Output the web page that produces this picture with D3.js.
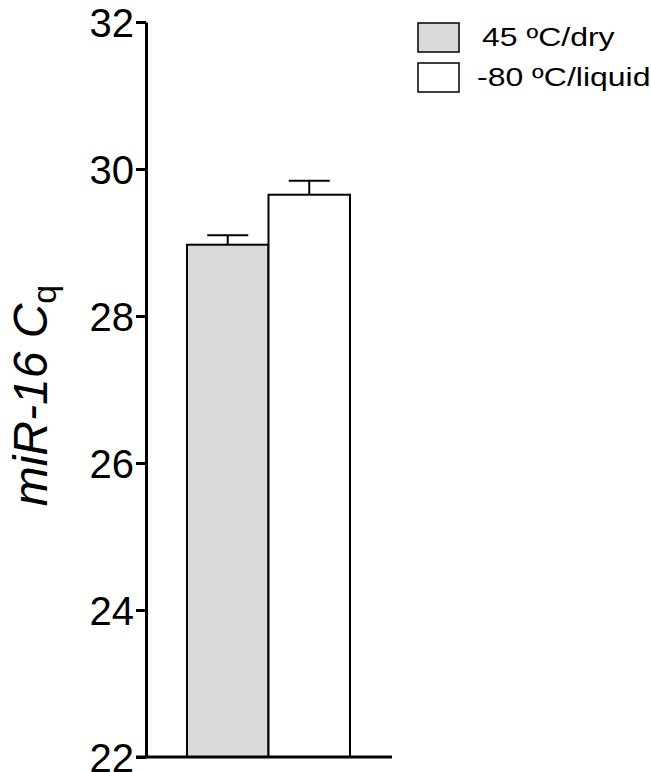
<!DOCTYPE html>
<html>
<head>
<meta charset="utf-8">
<script src="https://cdn.jsdelivr.net/npm/d3@7"></script>
<style>
  body { margin: 0; background: #fff; }
  text { font-family: "Liberation Sans", Arial, sans-serif; fill: #000; }
</style>
</head>
<body>
<script>
// data
var conditions = ["45 \u00baC/dry", "-80 \u00baC/liquid"];
var meanCq = [28.97, 29.65];
var semCq = [0.13, 0.19];
var barFills = ["#d9dad9", "#ffffff"];
var yTicks = [22, 24, 26, 28, 30, 32];

function drawChart(){
    var width = 651,
        height = 772;

    var svg = d3.select("body")
        .append("svg")
        .attr("width", width)
        .attr("height", height);

    //scales
    var y = d3.scaleLinear()
        .domain([22, 32])
        .range([757, 22]);

    var x = d3.scaleBand()
        .domain(conditions)
        .range([187, 350])
        .paddingInner(0);

    //bars
    svg.selectAll(".bar")
        .data(conditions)
        .enter()
        .append("rect")
        .attr("class", "bar")
        .attr("x", function(d){ return x(d); })
        .attr("width", x.bandwidth())
        .attr("y", function(d, i){ return y(meanCq[i]); })
        .attr("height", function(d, i){ return y(22) - y(meanCq[i]); })
        .attr("fill", function(d, i){ return barFills[i]; })
        .attr("stroke", "#000")
        .attr("stroke-width", 2);

    //error bars (upper only)
    var capHalf = 20.5;
    var err = svg.selectAll(".err")
        .data(conditions)
        .enter()
        .append("g")
        .attr("class", "err")
        .attr("stroke", "#000")
        .attr("stroke-width", 2);
    err.append("line")
        .attr("x1", function(d){ return x(d) + x.bandwidth() / 2; })
        .attr("x2", function(d){ return x(d) + x.bandwidth() / 2; })
        .attr("y1", function(d, i){ return y(meanCq[i]); })
        .attr("y2", function(d, i){ return y(meanCq[i] + semCq[i]); });
    err.append("line")
        .attr("x1", function(d){ return x(d) + x.bandwidth() / 2 - capHalf; })
        .attr("x2", function(d){ return x(d) + x.bandwidth() / 2 + capHalf; })
        .attr("y1", function(d, i){ return y(meanCq[i] + semCq[i]); })
        .attr("y2", function(d, i){ return y(meanCq[i] + semCq[i]); });

    //y axis
    var yAxis = svg.append("g")
        .attr("transform", "translate(146,0)")
        .call(d3.axisLeft(y).tickValues(yTicks).tickSize(10).tickPadding(2).tickSizeOuter(0));
    yAxis.select(".domain").attr("stroke-width", 3);
    yAxis.selectAll(".tick line").attr("stroke-width", 3);
    yAxis.selectAll(".tick text")
        .style("font-size", "40px")
        .attr("dy", "0.36em");

    //x axis baseline
    svg.append("line")
        .attr("x1", 136)
        .attr("x2", 392)
        .attr("y1", y(22))
        .attr("y2", y(22))
        .attr("stroke", "#000")
        .attr("stroke-width", 3);

    //y label
    var ylab = svg.append("text")
        .attr("transform", "translate(47," + (y(27) + 6) + ") rotate(-90)")
        .attr("text-anchor", "middle")
        .style("font-size", "48px");
    ylab.append("tspan").style("font-style", "italic").text("miR-16 C");
    ylab.append("tspan").attr("dy", "0.25em").style("font-size", "34px").text("q");

    //legend
    var legend = svg.selectAll(".legend")
        .data(conditions)
        .enter()
        .append("g")
        .attr("class", "legend")
        .attr("transform", function(d, i){ return "translate(418," + (23 + i * 40) + ")"; });
    legend.append("rect")
        .attr("width", 41)
        .attr("height", 29)
        .attr("fill", function(d, i){ return barFills[i]; })
        .attr("stroke", "#000")
        .attr("stroke-width", 1.5);
    //legend text in the figure is stretched wider than normal
    legend.append("text")
        .attr("transform", function(d, i){ return "translate(" + (i == 0 ? 64 : 59) + ",23) scale(1.28,1)"; })
        .style("font-size", "25px")
        .text(function(d){ return d; });
};

window.onload = drawChart();
</script>
</body>
</html>
